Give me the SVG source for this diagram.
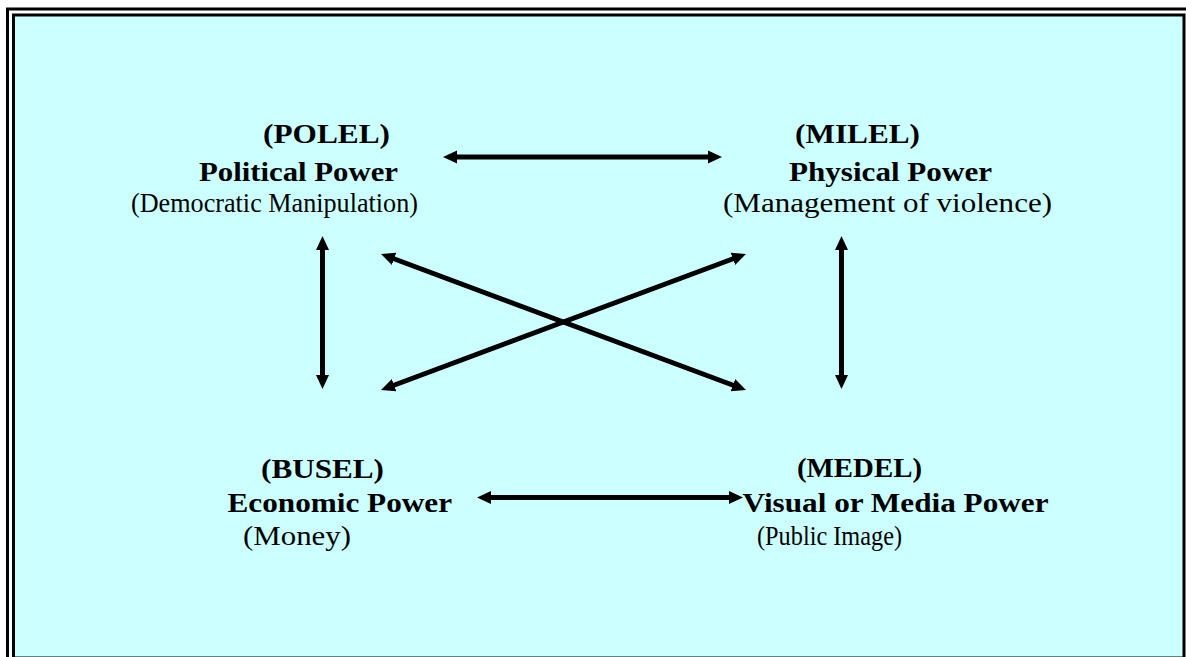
<svg xmlns="http://www.w3.org/2000/svg" width="1186" height="657" viewBox="0 0 1186 657">
  <style>
    .b { font-family: "Liberation Serif", "Times New Roman", serif; font-weight: bold; font-size: 28px; fill: #000; }
    .r { font-family: "Liberation Serif", "Times New Roman", serif; font-size: 27px; fill: #000; }
    .conn { stroke: #000; stroke-width: 5; fill: none; marker-start: url(#head); marker-end: url(#head); }
  </style>
  <defs>
    <marker id="head" markerUnits="userSpaceOnUse" viewBox="0 0 14 14" markerWidth="14" markerHeight="14" refX="1" refY="7" orient="auto-start-reverse">
      <path d="M0,0.5 L14,7 L0,13.5 z" fill="#000"/>
    </marker>
  </defs>
  <rect x="0" y="0" width="1186" height="657" fill="#fff"/>
  <g id="frame">
    <rect x="7.5" y="9" width="1190" height="660" fill="none" stroke="#000" stroke-width="3"/>
    <rect x="13.5" y="15" width="1170.5" height="643" fill="#CCFFFF" stroke="#000" stroke-width="3"/>
  </g>
  <g id="connectors">
    <line class="conn" x1="456" y1="157" x2="709" y2="157"/>
    <line class="conn" x1="490" y1="497.5" x2="730" y2="497.5"/>
    <line class="conn" x1="322.5" y1="249" x2="322.5" y2="376"/>
    <line class="conn" x1="841.5" y1="249" x2="841.5" y2="376"/>
    <line class="conn" x1="393.2" y1="258.5" x2="733.8" y2="385.5"/>
    <line class="conn" x1="393.2" y1="385.5" x2="733.8" y2="258.5"/>
  </g>
  <g id="polel">
    <text class="b" x="263" y="143" textLength="127" lengthAdjust="spacingAndGlyphs">(POLEL)</text>
    <text class="b" x="199" y="181" textLength="199" lengthAdjust="spacingAndGlyphs">Political Power</text>
    <text class="r" x="131" y="212" textLength="287" lengthAdjust="spacingAndGlyphs">(Democratic Manipulation)</text>
  </g>
  <g id="milel">
    <text class="b" x="795" y="143" textLength="125" lengthAdjust="spacingAndGlyphs">(MILEL)</text>
    <text class="b" x="789" y="181" textLength="203" lengthAdjust="spacingAndGlyphs">Physical Power</text>
    <text class="r" x="723" y="212" textLength="329" lengthAdjust="spacingAndGlyphs">(Management of violence)</text>
  </g>
  <g id="busel">
    <text class="b" x="261" y="478" textLength="123" lengthAdjust="spacingAndGlyphs">(BUSEL)</text>
    <text class="b" x="227.5" y="511.5" textLength="224.5" lengthAdjust="spacingAndGlyphs">Economic Power</text>
    <text class="r" x="243" y="545" textLength="108" lengthAdjust="spacingAndGlyphs">(Money)</text>
  </g>
  <g id="medel">
    <text class="b" x="797" y="477" textLength="125" lengthAdjust="spacingAndGlyphs">(MEDEL)</text>
    <text class="b" x="742.5" y="511.5" textLength="306" lengthAdjust="spacingAndGlyphs">Visual or Media Power</text>
    <text class="r" x="757" y="545" textLength="145" lengthAdjust="spacingAndGlyphs">(Public Image)</text>
  </g>
</svg>
